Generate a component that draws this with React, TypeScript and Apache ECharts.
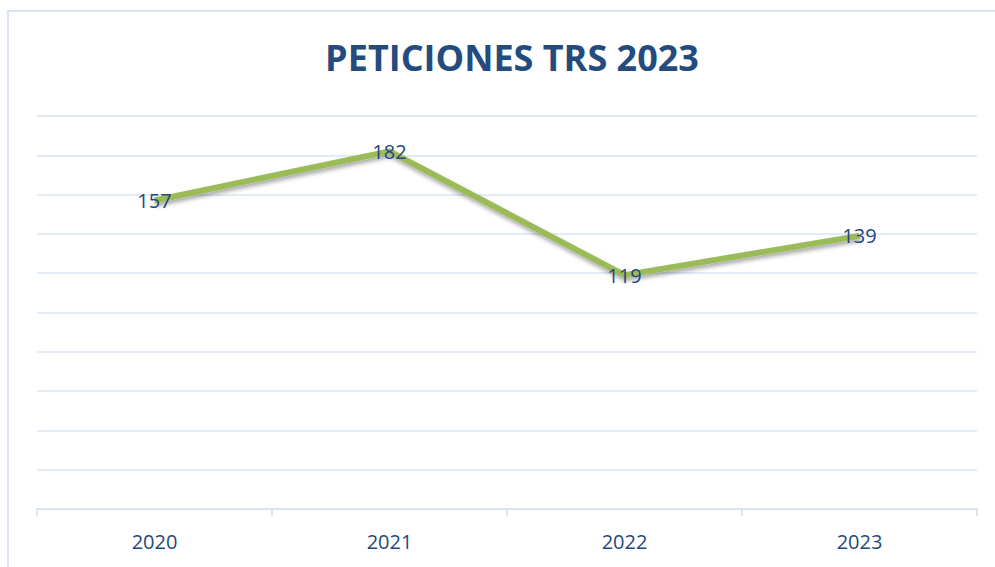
import React, { useEffect, useRef } from "react";
import * as echarts from "echarts";

const categories = ["2020", "2021", "2022", "2023"];
const values = [157, 182, 119, 139];
const titleText = "PETICIONES TRS 2023";

export default function App() {
  const ref = useRef<HTMLDivElement>(null);
  useEffect(() => {
    if (!ref.current) return;
    const chart = echarts.init(ref.current, null, { renderer: "svg" });
    const blue = "#1F497D";
    const grid = "#D9E4F3";
    chart.setOption({
      animation: false,
      backgroundColor: "#ffffff",
      textStyle: { fontFamily: "Open Sans" },
      title: {
        text: titleText,
        left: 507,
        textAlign: "center",
        top: 34,
        textStyle: { color: "#234B7E", fontSize: 36, fontWeight: "bold", fontFamily: "Open Sans" },
      },
      graphic: [
        {
          type: "rect",
          shape: { x: 8, y: 11, width: 1200, height: 800 },
          style: { fill: "none", stroke: grid, lineWidth: 2 },
          silent: true,
        },
      ],
      grid: { left: 37, right: 18, top: 116, bottom: 58, containLabel: false },
      xAxis: {
        type: "category",
        data: categories,
        boundaryGap: true,
        axisLine: { show: true, lineStyle: { color: grid, width: 2 } },
        axisTick: { show: true, length: 7, lineStyle: { color: grid, width: 2 } },
        axisLabel: { color: blue, fontSize: 20, margin: 22, fontFamily: "Open Sans" },
      },
      yAxis: {
        type: "value",
        min: 0,
        max: 200,
        interval: 20,
        axisLabel: { show: false },
        axisLine: { show: false },
        axisTick: { show: false },
        splitLine: { show: true, lineStyle: { color: grid, width: 1.5 } },
      },
      series: [
        {
          type: "line",
          data: values,
          showSymbol: true,
          symbolSize: 1,
          symbol: "circle",
          itemStyle: { color: "rgba(155,187,89,0)", borderWidth: 0 },
          lineStyle: {
            color: "#9BBB59",
            width: 6,
            shadowColor: "rgba(0,0,0,0.35)",
            shadowBlur: 4,
            shadowOffsetY: 3,
            shadowOffsetX: 1,
          },
          label: {
            show: true,
            position: "inside",
            color: blue,
            fontSize: 20,
            fontFamily: "Open Sans",
          },
        },
      ],
    });
    return () => chart.dispose();
  }, []);
  return (
    <div
      ref={ref}
      style={{ position: "absolute", left: 0, top: 0, width: 995, height: 567 }}
    />
  );
}
